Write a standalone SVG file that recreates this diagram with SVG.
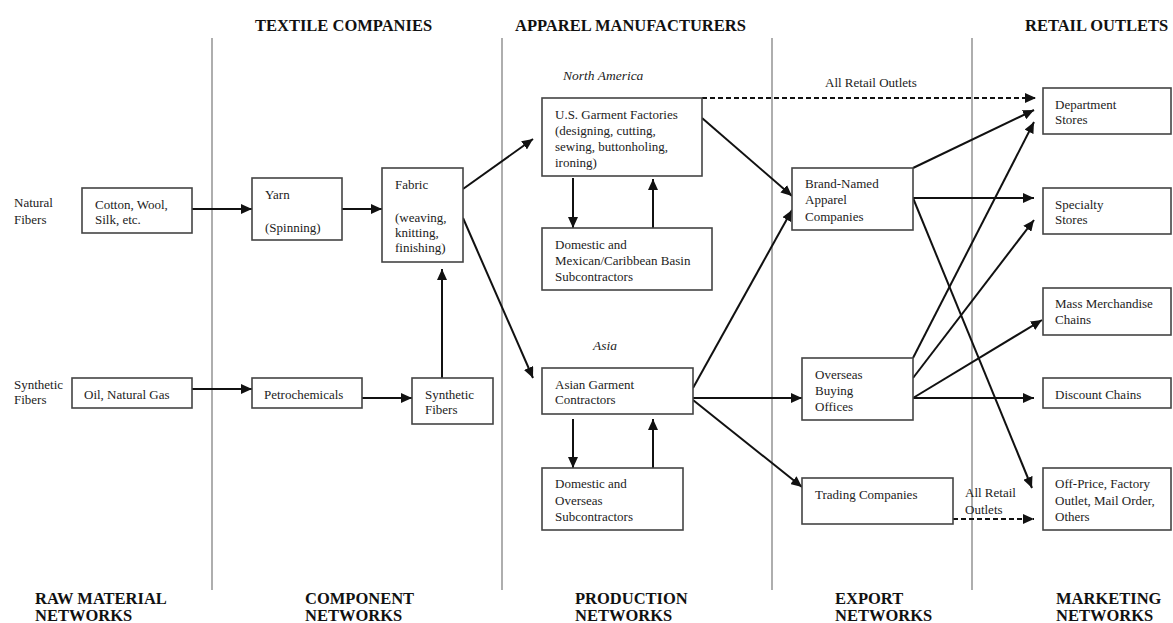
<svg xmlns="http://www.w3.org/2000/svg" width="1173" height="623" viewBox="0 0 1173 623">
  <style>
    .box { fill: #fff; stroke: #444; stroke-width: 1.6; }
    .t { font-family: "Liberation Serif", "Times New Roman", serif; font-size: 13px; fill: #222; }
    .it { font-family: "Liberation Serif", "Times New Roman", serif; font-size: 13.5px; font-style: italic; fill: #222; }
    .hd { font-family: "Liberation Serif", "Times New Roman", serif; font-size: 16.5px; font-weight: bold; fill: #111; }
    .div { stroke: #9a9a9a; stroke-width: 1.6; }
    .arr { stroke: #111; stroke-width: 2; fill: none; marker-end: url(#ah); }
    .dash { stroke: #111; stroke-width: 2; fill: none; stroke-dasharray: 5 3; marker-end: url(#ah); }
  </style>
  <defs>
    <marker id="ah" markerUnits="userSpaceOnUse" markerWidth="12" markerHeight="10" refX="11" refY="5" orient="auto">
      <path d="M0,0 L11,5 L0,10 Z" fill="#111"/>
    </marker>
  </defs>
  <rect width="1173" height="623" fill="#fff"/>

  <!-- column dividers -->
  <g id="dividers">
    <line class="div" x1="212" y1="38" x2="212" y2="590"/>
    <line class="div" x1="502" y1="38" x2="502" y2="590"/>
    <line class="div" x1="772" y1="38" x2="772" y2="590"/>
    <line class="div" x1="972" y1="38" x2="972" y2="590"/>
  </g>

  <!-- column headings -->
  <g id="headings">
    <text class="hd" x="255" y="31">TEXTILE COMPANIES</text>
    <text class="hd" x="515" y="31">APPAREL MANUFACTURERS</text>
    <text class="hd" x="1025" y="31">RETAIL OUTLETS</text>
    <text class="hd" x="35" y="604">RAW MATERIAL</text>
    <text class="hd" x="35" y="621">NETWORKS</text>
    <text class="hd" x="305" y="604">COMPONENT</text>
    <text class="hd" x="305" y="621">NETWORKS</text>
    <text class="hd" x="575" y="604">PRODUCTION</text>
    <text class="hd" x="575" y="621">NETWORKS</text>
    <text class="hd" x="835" y="604">EXPORT</text>
    <text class="hd" x="835" y="621">NETWORKS</text>
    <text class="hd" x="1056" y="604">MARKETING</text>
    <text class="hd" x="1056" y="621">NETWORKS</text>
  </g>

  <!-- row and region labels -->
  <g id="labels">
    <text class="t" x="14" y="207">Natural</text>
    <text class="t" x="14" y="224">Fibers</text>
    <text class="t" x="14" y="389">Synthetic</text>
    <text class="t" x="14" y="404">Fibers</text>
    <text class="it" x="563" y="80">North America</text>
    <text class="it" x="593" y="350">Asia</text>
    <text class="t" x="825" y="87">All Retail Outlets</text>
    <text class="t" x="965" y="497">All Retail</text>
    <text class="t" x="965" y="514">Outlets</text>
  </g>

  <!-- connectors -->
  <g id="connectors">
    <line class="arr" x1="192" y1="209" x2="252" y2="209"/>
    <line class="arr" x1="342" y1="209" x2="382" y2="209"/>
    <line class="arr" x1="192" y1="389" x2="252" y2="389"/>
    <line class="arr" x1="362" y1="398" x2="412" y2="398"/>
    <line class="arr" x1="442" y1="378" x2="442" y2="269"/>
    <line class="arr" x1="463" y1="189" x2="533" y2="139"/>
    <line class="arr" x1="463" y1="218" x2="533" y2="378"/>
    <line class="arr" x1="573" y1="178" x2="573" y2="228"/>
    <line class="arr" x1="653" y1="228" x2="653" y2="179"/>
    <line class="arr" x1="573" y1="419" x2="573" y2="468"/>
    <line class="arr" x1="653" y1="468" x2="653" y2="419"/>
    <line class="dash" x1="702" y1="98" x2="1036" y2="98"/>
    <line class="arr" x1="702" y1="118" x2="792" y2="196"/>
    <line class="arr" x1="693" y1="388" x2="792" y2="210"/>
    <line class="arr" x1="693" y1="398" x2="802" y2="398"/>
    <line class="arr" x1="693" y1="400" x2="802" y2="487"/>
    <line class="arr" x1="913" y1="168" x2="1034" y2="110"/>
    <line class="arr" x1="913" y1="198" x2="1034" y2="198"/>
    <line class="arr" x1="913" y1="198" x2="1032" y2="488"/>
    <line class="arr" x1="913" y1="358" x2="1034" y2="122"/>
    <line class="arr" x1="913" y1="378" x2="1034" y2="220"/>
    <line class="arr" x1="913" y1="398" x2="1042" y2="320"/>
    <line class="arr" x1="913" y1="398" x2="1034" y2="398"/>
    <line class="dash" x1="953" y1="519" x2="1034" y2="519"/>
  </g>

  <!-- raw material networks -->
  <g id="cotton">
    <rect class="box" x="82" y="188" width="110" height="45"/>
    <text class="t" x="95" y="209">Cotton, Wool,</text>
    <text class="t" x="95" y="224">Silk, etc.</text>
  </g>
  <g id="oil">
    <rect class="box" x="72" y="378" width="120" height="30"/>
    <text class="t" x="84" y="399">Oil, Natural Gas</text>
  </g>

  <!-- component networks -->
  <g id="yarn">
    <rect class="box" x="252" y="178" width="90" height="62"/>
    <text class="t" x="265" y="199">Yarn</text>
    <text class="t" x="265" y="232">(Spinning)</text>
  </g>
  <g id="fabric">
    <rect class="box" x="382" y="168" width="81" height="94"/>
    <text class="t" x="395" y="189">Fabric</text>
    <text class="t" x="395" y="222">(weaving,</text>
    <text class="t" x="395" y="237">knitting,</text>
    <text class="t" x="395" y="252">finishing)</text>
  </g>
  <g id="petrochemicals">
    <rect class="box" x="252" y="378" width="110" height="30"/>
    <text class="t" x="264" y="399">Petrochemicals</text>
  </g>
  <g id="synthetic-fibers">
    <rect class="box" x="412" y="378" width="81" height="46"/>
    <text class="t" x="425" y="399">Synthetic</text>
    <text class="t" x="425" y="414">Fibers</text>
  </g>

  <!-- production networks -->
  <g id="us-garment">
    <rect class="box" x="542" y="98" width="160" height="78"/>
    <text class="t" x="555" y="119">U.S. Garment Factories</text>
    <text class="t" x="555" y="135">(designing, cutting,</text>
    <text class="t" x="555" y="151">sewing, buttonholing,</text>
    <text class="t" x="555" y="167">ironing)</text>
  </g>
  <g id="mexican-subcontractors">
    <rect class="box" x="542" y="228" width="170" height="62"/>
    <text class="t" x="555" y="249">Domestic and</text>
    <text class="t" x="555" y="265">Mexican/Caribbean Basin</text>
    <text class="t" x="555" y="281">Subcontractors</text>
  </g>
  <g id="asian-garment">
    <rect class="box" x="542" y="368" width="151" height="46"/>
    <text class="t" x="555" y="389">Asian Garment</text>
    <text class="t" x="555" y="404">Contractors</text>
  </g>
  <g id="overseas-subcontractors">
    <rect class="box" x="542" y="468" width="141" height="62"/>
    <text class="t" x="555" y="488">Domestic and</text>
    <text class="t" x="555" y="505">Overseas</text>
    <text class="t" x="555" y="521">Subcontractors</text>
  </g>

  <!-- export networks -->
  <g id="brand-named">
    <rect class="box" x="792" y="168" width="121" height="62"/>
    <text class="t" x="805" y="188">Brand-Named</text>
    <text class="t" x="805" y="204">Apparel</text>
    <text class="t" x="805" y="221">Companies</text>
  </g>
  <g id="buying-offices">
    <rect class="box" x="802" y="358" width="111" height="62"/>
    <text class="t" x="815" y="379">Overseas</text>
    <text class="t" x="815" y="395">Buying</text>
    <text class="t" x="815" y="411">Offices</text>
  </g>
  <g id="trading">
    <rect class="box" x="802" y="478" width="151" height="46"/>
    <text class="t" x="815" y="499">Trading Companies</text>
  </g>

  <!-- marketing networks -->
  <g id="department">
    <rect class="box" x="1043" y="88" width="128" height="46"/>
    <text class="t" x="1055" y="109">Department</text>
    <text class="t" x="1055" y="124">Stores</text>
  </g>
  <g id="specialty">
    <rect class="box" x="1043" y="188" width="128" height="46"/>
    <text class="t" x="1055" y="209">Specialty</text>
    <text class="t" x="1055" y="224">Stores</text>
  </g>
  <g id="mass-merchandise">
    <rect class="box" x="1043" y="288" width="128" height="47"/>
    <text class="t" x="1055" y="308">Mass Merchandise</text>
    <text class="t" x="1055" y="324">Chains</text>
  </g>
  <g id="discount">
    <rect class="box" x="1043" y="378" width="128" height="30"/>
    <text class="t" x="1055" y="399">Discount Chains</text>
  </g>
  <g id="off-price">
    <rect class="box" x="1043" y="468" width="128" height="62"/>
    <text class="t" x="1055" y="488">Off-Price, Factory</text>
    <text class="t" x="1055" y="505">Outlet, Mail Order,</text>
    <text class="t" x="1055" y="521">Others</text>
  </g>
</svg>
